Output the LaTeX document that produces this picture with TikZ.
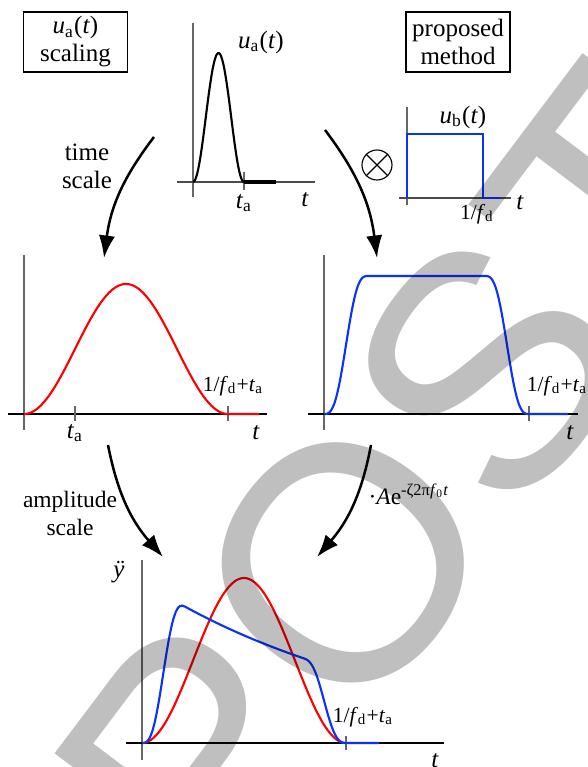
\documentclass[tikz,border=0pt]{standalone}
\usepackage{fontspec}
\setmainfont{Liberation Serif}
\newfontfamily\stampfont{Liberation Sans}
\usetikzlibrary{arrows.meta}
\definecolor{pblue}{RGB}{10,50,255}
\newcommand{\vsub}[2]{\textit{#1}\textsubscript{#2}}
\newcommand{\smallsize}{\fontsize{8.6}{10}\selectfont}
\tikzset{
  axis/.style={line width=0.45pt},
  yaxis/.style={line width=0.45pt, black!60},
  ticmark/.style={line width=0.45pt, black!60},
  curve/.style={line width=0.85pt},
  flow/.style={-{Latex[length=9pt,width=6.5pt]}, line width=1pt},
  labelbox/.style={draw, line width=0.45pt, align=center, minimum width=41.6pt, minimum height=24pt, inner sep=1pt}
}
\begin{document}
\begin{tikzpicture}[x=0.4pt,y=0.4pt,
  font=\fontsize{10}{11.2}\selectfont,
  declare function={rc(\u)=(1-cos(360*\u))/2; rise(\u)=\u-sin(360*\u)/(2*pi);}]
\useasboundingbox (0,0) rectangle (587,767);
% boxes
\node[labelbox] (scal) at (75.5,725) {\vsub{u}{a}(\textit{t})\\scaling};
\node[labelbox] (prop) at (458,725) {proposed\\method};
% input pulse u_a(t)
\draw[yaxis] (193,570) -- (193,744);
\draw[axis, black!70] (177,585) -- (315,585);
\draw[ticmark] (244,577) -- (244,595);
\draw[curve] plot[domain=193:244,samples=60] (\x,{585+129*rc((\x-193)/51)});
\draw[line width=1.6pt] (244,585) -- (276,585);
\node (ua) at (261,725) {\vsub{u}{a}(\textit{t})};
\node (ta1) at (244,564) {\vsub{t}{a}};
\node (t1) at (305,567) {\textit{t}};
% rectangle u_b(t)
\node[circle, draw, line width=0.45pt, minimum size=12pt, inner sep=0pt] (conv) at (377,602) {};
\draw[line width=0.45pt] (conv.north west) -- (conv.south east) (conv.north east) -- (conv.south west);
\draw[yaxis] (407,562) -- (407,660);
\draw[axis, black!70] (399,569) -- (511,569);
\draw[curve, pblue] (407,569) -- (407,633) -- (483,633) -- (483,569) -- (500,569);
\node (ub) at (463,650) {\vsub{u}{b}(\textit{t})};
\node[font=\smallsize] (fd) at (477,553) {1/\vsub{f}{d}};
\node (t2) at (520,564) {\textit{t}};
% top arrows
\coordinate (a1s) at (154,630);
\coordinate (a1e) at (104,509);
\coordinate (a2s) at (325,637);
\coordinate (a2e) at (377,509);
\draw[flow] (a1s) to[bend right=15] (a1e);
\draw[flow] (a2s) to[bend left=15] (a2e);
\node[align=center] (tsc) at (87,601) {time\\scale};
% time scaled pulse
\draw[yaxis] (24,337) -- (24,512);
\draw[axis] (8,353) -- (267,353);
\draw[ticmark] (75,346) -- (75,361);
\draw[ticmark] (228,346) -- (228,361);
\draw[curve, red] plot[domain=24:228,samples=100] (\x,{353+130*rc((\x-24)/204)}) -- (259,353);
\node (ta2) at (75,334) {\vsub{t}{a}};
\node[font=\smallsize] (fa2) at (233,381) {1/\vsub{f}{d}+\vsub{t}{a}};
\node (t3) at (256,334) {\textit{t}};
% convolved pulse
\draw[yaxis] (324,337) -- (324,512);
\draw[axis] (308,353) -- (578,353);
\draw[ticmark] (529,346) -- (529,361);
\draw[curve, pblue] plot[domain=324:368,samples=40] (\x,{353+138*rise((\x-324)/44)})
  -- (485,491) -- plot[domain=485:529,samples=40] (\x,{353+138*rise((529-\x)/44)}) -- (568,353);
\node[font=\smallsize] (fa3) at (557,381) {1/\vsub{f}{d}+\vsub{t}{a}};
\node (t4) at (570,334) {\textit{t}};
% bottom arrows
\coordinate (a3s) at (108,322);
\coordinate (a3e) at (163,210);
\coordinate (a4s) at (371,322);
\coordinate (a4e) at (317,210);
\draw[flow] (a3s) to[bend right=15] (a3e);
\draw[flow] (a4s) to[bend left=15] (a4e);
\node[align=center, font=\fontsize{9.4}{11.2}\selectfont] (asc) at (70,254) {amplitude\\scale};
\node[anchor=base west, inner sep=0pt, font=\fontsize{9.4}{11.2}\selectfont] (damp) at (368,262) {·\textit{A}e\textsuperscript{-ζ2π\vsub{f}{0}\textit{t}}};
% acceleration
\draw[yaxis] (142,7) -- (142,207);
\draw[axis] (126,24) -- (444,24);
\draw[ticmark] (346,17) -- (346,31);
\draw[curve, red] plot[domain=142:346,samples=100] (\x,{24+165*rc((\x-142)/204)});
\draw[curve, pblue] plot[domain=142:186,samples=40] (\x,{24+162*rise((\x-142)/44)*exp(-0.00402*(\x-142))})
  -- plot[domain=186:303,samples=30] (\x,{24+162*exp(-0.00402*(\x-142))})
  -- plot[domain=303:347,samples=40] (\x,{24+162*rise((347-\x)/44)*exp(-0.00402*(\x-142))}) -- (379,24);
\node (yacc) at (119,195) {\textit{ÿ}};
\node[font=\smallsize] (fa4) at (363,50) {1/\vsub{f}{d}+\vsub{t}{a}};
\node (t5) at (435,6) {\textit{t}};
% stamp
\node[font=\stampfont\fontsize{134}{134}\selectfont, text=black, text opacity=0.25, rotate=53, inner sep=0pt] (stamp) at (405,286) {POST};
\end{tikzpicture}
\end{document}
